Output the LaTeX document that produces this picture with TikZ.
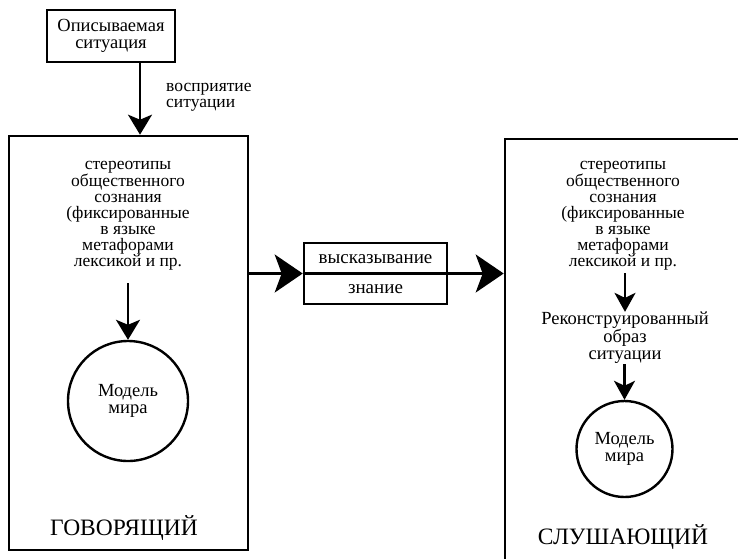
\documentclass[tikz,border=0pt]{standalone}
\usepackage{fontspec}
\setmainfont{Liberation Serif}
\usetikzlibrary{arrows.meta,calc}
\begin{document}
\begin{tikzpicture}[x=1pt,y=1pt,
  box/.style={draw,line width=2.6pt,rectangle,inner sep=0pt},
  txt/.style={align=center,inner sep=0pt,font=\fontsize{17.5}{16}\selectfont},
  big/.style={inner sep=0pt,font=\fontsize{23.5}{26}\selectfont},
  circ/.style={draw,line width=2.4pt,circle,inner sep=0pt,align=center,font=\fontsize{18.5}{17}\selectfont},
  arr/.style={line width=2.4pt,-{Stealth[length=20pt,width=24pt,inset=5pt]}},
  harr/.style={line width=2.4pt,-{Stealth[length=28pt,width=38pt,inset=7pt]}}
]
\useasboundingbox (0,0) rectangle (738,-558);
\fill[white] (0,0) rectangle (738,-558);
\begin{scope}
\clip (0,0) rectangle (738,-558);
% top box
\node[box,minimum width=128pt,minimum height=52pt,align=center,font=\fontsize{18.5}{17}\selectfont] (situ) at (111,-36) {Описываемая\\ситуация};
% speaker box
\node[box,minimum width=239pt,minimum height=414pt] (speaker) at (128.5,-343) {};
\node[big] (spk) at (124,-528) {ГОВОРЯЩИЙ};
% listener box (extends beyond the page)
\node[box,minimum width=260pt,minimum height=460pt] (listener) at (635,-369) {};
\node[big] (lst) at (623,-537) {СЛУШАЮЩИЙ};
% perception arrow
\coordinate (ax) at (140,0);
\draw[arr] (situ.south -| ax) -- (speaker.north -| ax);
\node[anchor=west,align=left,inner sep=0pt,font=\fontsize{17.5}{16}\selectfont] (perc) at (166,-97) {восприятие\\ситуации};
% left content
\node[txt] (ster1) at (128,-216) {стереотипы\\общественного\\сознания\\(фиксированные\\в языке\\метафорами\\лексикой и пр.};
\node[circ,minimum size=120pt] (mod1) at (128,-401) {Модель\\мира};
\draw[arr] (128,-283) coordinate (s1) -- (mod1.north);
% middle box
\node[box,minimum width=143pt,minimum height=61pt] (mid) at (375.5,-273.5) {};
\draw[line width=2.4pt] (mid.west) -- (mid.east);
\node[txt,font=\fontsize{19}{17}\selectfont] (vysk) at (375.5,-259) {высказывание};
\node[txt,font=\fontsize{19}{17}\selectfont] (zn) at (375.5,-289) {знание};
\draw[harr] (speaker.east |- mid.west) -- (mid.west);
\draw[harr] (mid.east) -- (listener.west |- mid.east);
% right content
\node[txt] (ster2) at (623,-216) {стереотипы\\общественного\\сознания\\(фиксированные\\в языке\\метафорами\\лексикой и пр.};
\node[txt,font=\fontsize{18.5}{17}\selectfont] (recon) at (625,-338) {Реконструированный\\образ\\ситуации};
\node[circ,minimum size=96pt] (mod2) at (624.5,-449) {Модель\\мира};
\draw[arr,-{Stealth[length=19pt,width=21pt,inset=5pt]}] (625,-273) coordinate (s2) -- (recon.north -| s2);
\draw[arr,-{Stealth[length=19pt,width=21pt,inset=5pt]}] (recon.south -| mod2) -- (mod2.north);
\end{scope}
\end{tikzpicture}
\end{document}
